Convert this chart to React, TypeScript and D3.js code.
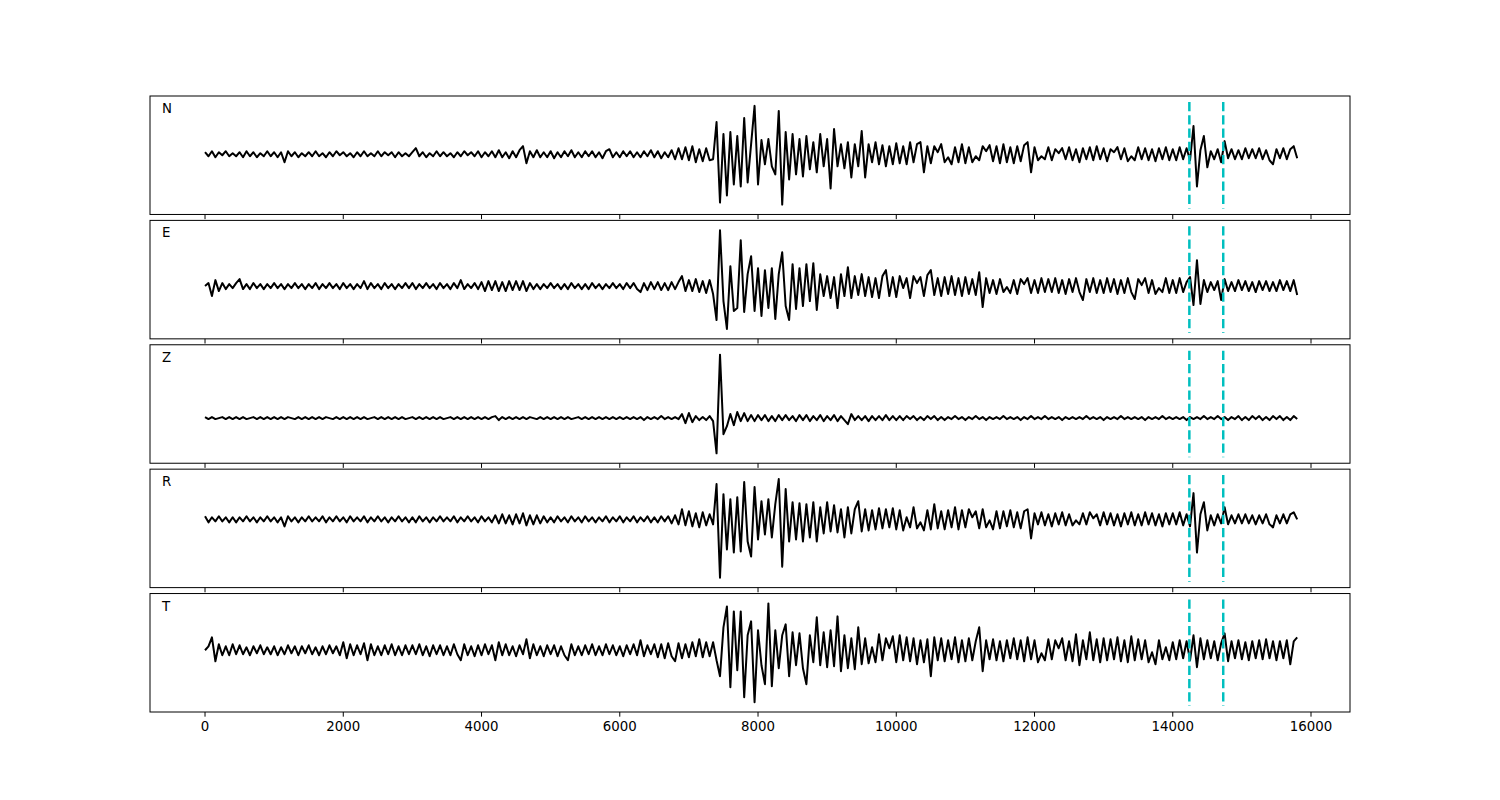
import React from "react";
import * as d3 from "d3";

const STEP = 50;
const CHANNELS = ["N", "E", "Z", "R", "T"];
const X_TICKS = [0, 2000, 4000, 6000, 8000, 10000, 12000, 14000, 16000];
const X_LIMITS = [-796, 16564];
const MARKERS = [14240, 14730];

const TRACE_N = [
  2,-2,3,-3,2,-1,3,-2,1,-2,
  2,-3,3,-2,2,-3,1,-2,3,-2,
  2,-3,2,-8,3,-2,2,-3,1,-2,
  2,-2,3,-2,1,-3,2,-2,3,-1,
  2,-2,1,-3,2,-2,3,-2,1,-2,
  3,-2,2,-1,2,-3,2,-2,1,-2,
  2,6,-2,2,-3,1,-2,3,-2,2,
  -2,1,-3,2,-2,3,-1,2,-2,3,
  -3,2,-2,3,-3,4,-3,2,-4,3,
  -3,4,8,-9,3,-3,4,-3,2,-3,
  3,-4,2,-3,3,-2,4,-3,2,-3,
  3,-2,3,-3,2,-4,3,5,-3,2,
  -3,3,-2,3,-3,2,-3,3,-2,4,
  -3,3,-4,2,-3,4,-5,6,-5,7,
  -6,8,-8,5,-7,6,-6,-5,32,-48,
  20,-41,22,-30,18,-32,36,-28,10,48,
  -30,14,-10,15,-12,-20,43,-50,22,-25,
  20,-20,15,-22,18,-15,12,-18,20,-12,
  15,-34,25,-12,10,-14,12,-23,10,-12,
  23,-23,10,-8,12,-10,9,-12,8,-10,
  11,-9,8,-10,12,-8,10,12,-18,8,
  -9,8,2,10,-8,-3,-10,7,-8,10,
  -9,7,-8,-2,-6,8,3,9,-7,8,
  -9,10,-8,7,-9,8,-7,9,12,-18,
  7,-6,-2,-5,7,-6,5,1,6,-5,
  7,-6,5,-8,6,-5,7,-6,8,-5,
  6,-7,5,2,7,-5,6,-7,-2,-6,
  7,-5,6,-6,5,-7,6,-5,7,-6,
  5,-6,7,-5,6,-6,28,-32,4,18,
  -13,3,-5,5,-8,13,-4,5,-5,4,
  -5,6,-4,5,-4,6,-5,4,-6,-10,
  5,-4,6,-5,5,8,-4,
];

const TRACE_E = [
  0,3,-10,6,-5,3,-3,2,-2,3,
  7,-3,2,-3,3,-2,2,-3,2,-2,
  3,-2,2,-3,2,-2,3,-2,2,-3,
  2,-2,3,-3,2,-2,3,-2,2,-3,
  3,-2,2,-3,2,-2,5,-3,3,-2,
  2,-3,3,-2,2,-3,2,-2,3,-2,
  3,-3,2,-2,3,-2,2,-3,3,-2,
  2,-3,3,-2,6,-3,2,-2,3,-3,
  4,-5,5,-4,5,-5,4,-5,5,-4,
  5,-4,5,-5,3,-3,2,-3,2,-2,
  3,-2,2,-3,2,-3,3,-2,2,-3,
  2,-3,3,-2,2,-3,2,-2,3,-2,
  2,-3,3,-2,3,-3,-6,3,-4,4,
  -3,4,-4,3,-4,4,-3,4,10,-5,
  6,-5,7,-6,5,-7,6,-8,-34,56,
  -15,-43,20,-25,-22,46,-26,12,30,-25,
  18,-30,16,-22,18,-33,12,34,-20,-34,
  22,-23,18,-20,22,-15,23,-24,12,-10,
  10,-12,9,-22,12,-10,19,-12,10,-9,
  12,-10,9,-11,8,-12,10,16,-10,9,
  -11,10,-2,8,-12,10,3,9,-10,11,
  16,-9,8,-10,9,-8,10,-9,8,-10,
  9,-8,7,-9,14,-21,8,-7,6,-8,
  7,-6,-1,-7,6,-8,7,2,8,-7,
  6,-7,8,-6,7,-6,8,-7,6,-8,
  7,-6,8,-6,-14,7,-6,8,-7,6,
  -7,8,-6,7,-8,6,-7,8,-6,-13,
  7,1,8,-7,6,-8,-2,-6,8,-7,
  6,-7,8,-6,4,9,-19,26,-18,6,
  -6,4,-4,5,-14,7,-5,4,-5,6,
  -4,5,-5,4,-6,5,-4,5,-5,4,
  -5,6,-4,5,-5,6,-9,
];

const TRACE_Z = [
  1,-1,1,-1,0,1,-1,1,-1,1,
  -1,1,-1,0,1,-1,1,-1,1,-1,
  1,-1,1,-1,1,0,-1,1,-1,1,
  -1,1,-1,1,-1,1,0,-1,1,-1,
  1,-1,1,-1,1,-1,1,-1,0,1,
  -1,1,-1,1,-1,1,-1,1,-1,0,
  1,-1,1,-1,1,-1,1,-1,1,-1,
  0,1,-1,1,-1,1,-1,1,-1,1,
  -1,1,-1,1,2,-2,1,-1,1,-1,
  1,-1,1,-1,1,0,-1,1,-1,1,
  -1,1,-1,1,-1,1,-1,0,1,-1,
  1,-1,1,-1,1,-1,1,-1,1,-1,
  1,-1,1,-1,1,-1,1,-2,1,-1,
  1,-1,2,-1,1,-1,1,-1,4,-5,
  5,-4,2,-2,1,-2,2,-3,-35,63,
  -16,-8,4,-7,6,-3,5,-3,3,-3,
  3,-2,3,-3,2,-3,3,-2,3,-2,
  2,-3,3,-2,3,-3,2,-2,3,-3,
  2,-2,3,-3,2,-2,-6,4,-2,2,
  -2,2,-3,2,-2,2,-2,3,-2,2,
  -2,2,-2,2,-1,2,-2,1,-2,2,
  -1,2,-2,1,-2,1,-1,2,-1,1,
  -2,1,-1,2,-1,1,-2,1,-1,1,
  -1,2,-1,1,-1,1,-2,1,-1,2,
  -1,1,-1,2,-1,1,-1,1,-2,1,
  -1,1,-1,1,-1,2,-1,1,-1,1,
  -2,1,-1,1,-1,2,-1,1,-1,1,
  -1,1,-2,1,-1,1,-1,2,-1,1,
  -1,1,-1,1,-2,1,-1,1,-1,2,
  -1,1,-1,2,-1,1,-2,1,-1,2,
  -2,1,-2,2,-1,2,-2,1,-2,2,
  -1,2,-2,1,-2,2,-1,
];

const TRACE_R = [
  3,-3,2,-2,3,-2,2,-3,2,-3,
  2,-2,3,-2,2,-3,2,-2,3,-2,
  2,-3,2,-7,3,-2,2,-3,2,-2,
  3,-2,2,-2,3,-3,2,-2,3,-2,
  2,-3,3,-2,2,-2,3,-3,2,-2,
  3,-2,2,-3,2,-2,3,-2,2,-3,
  2,-3,3,-2,2,-3,2,-2,3,-2,
  2,-2,3,-3,2,-2,3,-2,2,-3,
  3,-2,2,-3,4,-4,5,-4,4,-5,
  5,-4,6,-6,4,-5,4,-4,3,-3,
  2,-3,3,-2,2,-3,3,-2,2,-3,
  3,-2,2,-3,2,-2,3,-3,2,-2,
  3,-3,2,-2,3,-3,2,-2,3,-3,
  2,-3,3,-2,3,-4,4,-5,10,-6,
  8,-7,6,-8,7,-6,5,-5,35,-58,
  25,-30,20,-33,22,-32,37,-22,-37,32,
  -20,18,-15,20,-18,15,40,-47,30,-22,
  17,-20,16,-22,15,-18,17,-22,12,-14,
  17,-12,14,-13,10,-18,12,-14,10,18,
  -12,10,-11,9,-10,11,-9,10,-8,11,
  -10,9,-11,2,-8,12,-9,-3,-11,9,
  -10,15,-9,8,-10,9,-8,12,-10,9,
  -8,10,2,8,-9,10,-8,-1,-10,8,
  -9,8,-7,9,-8,7,-9,8,10,-19,
  6,-5,7,-6,5,-7,6,-5,7,-6,
  5,-6,-1,-5,6,-5,7,1,5,-6,
  7,-5,6,-6,5,-7,6,-5,7,-6,
  5,-6,7,-5,6,-6,5,-7,6,-5,
  6,-5,7,-6,5,-7,26,-33,5,17,
  -11,4,-6,5,-4,12,-5,4,-4,5,
  -4,5,-4,4,-5,4,-4,5,-5,-8,
  4,-4,5,-4,5,7,0,
];

const TRACE_T = [
  0,4,13,-11,6,-5,4,-5,6,-4,
  5,-4,3,-5,4,-3,5,-4,3,-4,
  4,-5,3,-4,5,-3,4,-5,4,-3,
  5,-4,3,-5,4,-4,5,-3,4,-5,
  8,-8,6,-5,5,-4,7,-10,6,-5,
  4,-5,5,-4,6,-5,4,-5,5,-4,
  5,-4,6,-5,4,-6,5,-4,5,-5,
  4,-5,6,-4,-10,6,-5,4,-6,5,
  -5,6,-4,5,-10,8,-5,6,-5,4,
  -6,5,-4,11,-8,6,-5,4,-6,5,
  -4,5,-6,4,-5,-10,6,-5,4,-5,
  5,-4,6,-5,4,-5,6,-4,5,-5,
  4,-6,5,-4,6,-5,10,-6,5,-4,
  6,-7,6,-8,7,-6,-11,7,-8,6,
  -7,8,-6,11,-7,8,-6,8,-10,-26,
  23,44,-37,39,-20,39,-47,15,29,-52,
  20,-15,-34,47,-36,20,-18,15,26,-26,
  18,-15,17,-18,-34,15,-12,33,-15,18,
  -17,20,-16,34,-21,15,-18,12,-19,23,
  -14,12,-13,3,-12,16,-10,12,2,14,
  -12,15,-10,13,-11,12,-14,10,-12,11,
  -26,13,-10,12,-11,10,-9,13,-12,10,
  -11,12,-10,9,23,-21,10,-9,11,-10,
  9,-11,10,-8,12,-9,10,-11,13,-9,
  10,-12,-3,-10,11,-9,10,2,12,-10,
  9,-11,16,-15,10,-9,18,-10,11,-12,
  12,-10,11,-9,13,-11,10,-12,14,-10,
  11,-9,10,-12,-2,-14,10,-9,3,-10,
  8,-9,10,-8,9,-10,15,-17,12,-9,
  10,-8,9,-10,7,17,-11,9,-8,10,
  -9,8,-10,9,-8,10,-9,11,-8,9,
  -10,9,-8,10,-14,9,13,
];

const TRACES = [TRACE_N, TRACE_E, TRACE_Z, TRACE_R, TRACE_T];

export default function App() {
  const W = 1500;
  const H = 800;
  const left = 150;
  const right = 1350;
  const top = 96;
  const bottom = 712;
  const n = TRACES.length;
  const hspace = 0.05;
  const ph = (bottom - top) / (n + (n - 1) * hspace);
  const gap = ph * hspace;

  const x = d3.scaleLinear().domain(X_LIMITS).range([left, right]);
  const font = "DejaVu Sans, sans-serif";

  return (
    <svg
      width={W}
      height={H}
      style={{ position: "absolute", left: 0, top: 0, background: "#fff" }}
      xmlns="http://www.w3.org/2000/svg"
    >
      <rect x={0} y={0} width={W} height={H} fill="#fff" />
      {TRACES.map((vals, k) => {
        const py = top + k * (ph + gap);
        const [mn, mx] = d3.extent(vals) as [number, number];
        const pad = (mx - mn) * 0.1;
        const y = d3
          .scaleLinear()
          .domain([mn - pad, mx + pad])
          .range([py + ph, py]);
        const line = d3
          .line<number>()
          .x((_, i) => x(i * STEP))
          .y((d) => y(d));
        const isLast = k === n - 1;
        return (
          <g key={k}>
            <defs>
              <clipPath id={`clip${k}`}>
                <rect x={left} y={py} width={right - left} height={ph} />
              </clipPath>
            </defs>
            <g clipPath={`url(#clip${k})`}>
              <path
                d={line(vals) || ""}
                fill="none"
                stroke="#000"
                strokeWidth={2}
                strokeLinejoin="round"
              />
              {MARKERS.map((m) => (
                <line
                  key={m}
                  x1={x(m)}
                  x2={x(m)}
                  y1={py + ph * 0.05}
                  y2={py + ph * 0.95}
                  stroke="#00bfbf"
                  strokeWidth={2.5}
                  strokeDasharray="9.25,4"
                />
              ))}
            </g>
            <rect
              x={left}
              y={py}
              width={right - left}
              height={ph}
              fill="none"
              stroke="#000"
              strokeWidth={1}
            />
            <text
              x={162}
              y={py + 17}
              fontFamily={font}
              fontSize={13.33}
              fill="#000"
            >
              {CHANNELS[k]}
            </text>
            {X_TICKS.map((t) => (
              <g key={t} transform={`translate(${x(t)},${py + ph})`}>
                <line y1={0} y2={4.67} stroke="#000" strokeWidth={1} />
                {isLast && (
                  <text
                    y={9.33}
                    dy="0.76em"
                    textAnchor="middle"
                    fontFamily={font}
                    fontSize={13.33}
                    fill="#000"
                  >
                    {t}
                  </text>
                )}
              </g>
            ))}
          </g>
        );
      })}
    </svg>
  );
}
